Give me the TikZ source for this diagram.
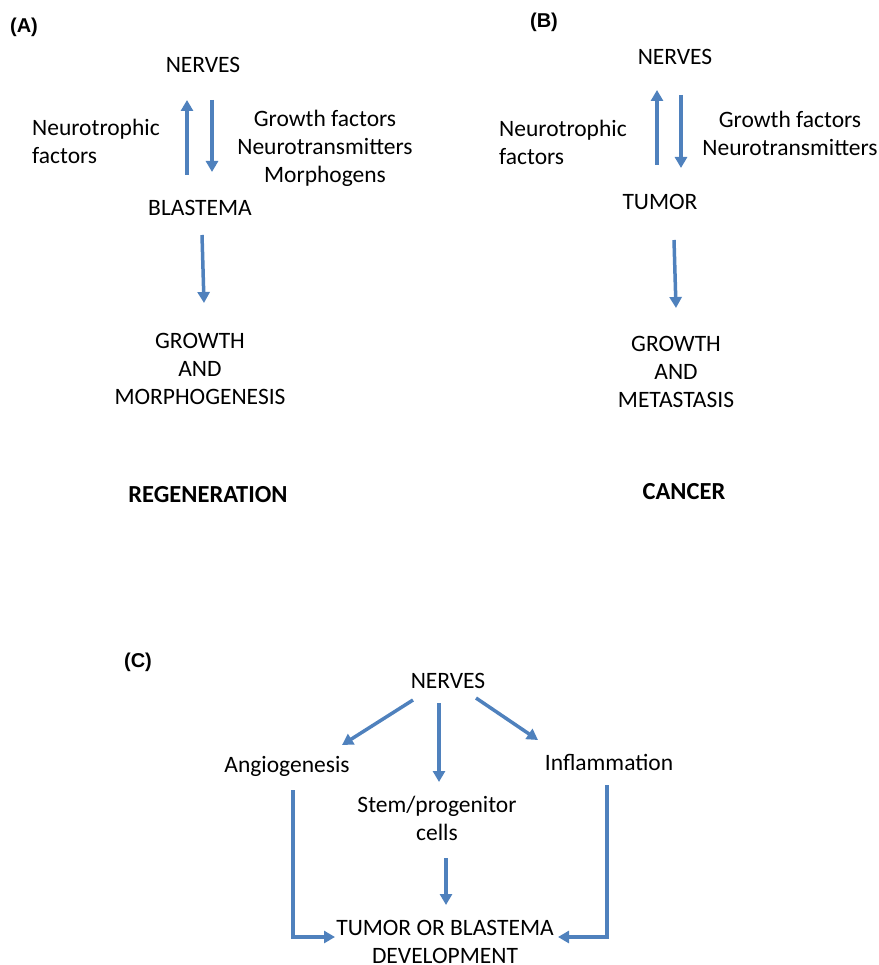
\documentclass[tikz,border=0pt]{standalone}
\usepackage{fontspec}
\setmainfont{Carlito}
\newfontfamily\panelfont{Liberation Sans}
\usetikzlibrary{arrows.meta,calc}
\definecolor{flowblue}{HTML}{4F81BD}
\tikzset{
  txt/.style={font=\fontsize{23.5}{28}\selectfont, inner sep=0pt, text height=15pt, text depth=0pt},
  multi/.style={font=\fontsize{23.5}{28}\selectfont, inner sep=0pt, align=center},
  title/.style={font=\fontsize{24.5}{28}\selectfont\bfseries, inner sep=0pt},
  panel/.style={font=\panelfont\bfseries\fontsize{20}{24}\selectfont, inner sep=0pt},
  flow/.style={draw=flowblue, line width=3.5pt, -{Triangle[length=11pt,width=12pt]}, fill=none}
}
\begin{document}
\begin{tikzpicture}[x=1pt,y=-1pt]
    \useasboundingbox (0,0) rectangle (878,965);
    % (A)
    \node[panel] (labA) at (24,27) {(A)};
    \node[txt] (nervA) at (203,65) {NERVES};
    \node[multi, align=left, anchor=west] (neuroA) at (32,141) {Neurotrophic\\factors};
    \node[multi] (growfA) at (325,148) {Growth factors\\Neurotransmitters\\Morphogens};
    \node[txt] (blastA) at (200,208) {BLASTEMA};
    \node[multi] (growA) at (200,369) {GROWTH\\AND\\MORPHOGENESIS};
    \node[title] (regA) at (208,495) {REGENERATION};
    \draw[flow] ([shift={(-13,-33)}]blastA.center) -- ([shift={(-16,35)}]nervA.center);
    \draw[flow] ([shift={(9,35)}]nervA.center) -- ([shift={(12,-36)}]blastA.center);
    \draw[flow] ([shift={(2,27)}]blastA.center) -- ([shift={(4,-66)}]growA.center);
    % (B)
    \node[panel] (labB) at (544,22) {(B)};
    \node[txt] (nervB) at (675,57) {NERVES};
    \node[multi, align=left, anchor=west] (neuroB) at (499,142) {Neurotrophic\\factors};
    \node[multi] (growfB) at (790,133) {Growth factors\\Neurotransmitters};
    \node[txt] (tumB) at (660,202) {TUMOR};
    \node[multi] (growB) at (676,372) {GROWTH\\AND\\METASTASIS};
    \node[title] (canB) at (684,492) {CANCER};
    \draw[flow] ([shift={(-3,-37)}]tumB.center) -- ([shift={(-18,33)}]nervB.center);
    \draw[flow] ([shift={(6,38)}]nervB.center) -- ([shift={(21,-34)}]tumB.center);
    \draw[flow] ([shift={(14,38)}]tumB.center) -- ([shift={(0,-64)}]growB.center);
    % (C)
    \node[panel] (labC) at (138,662) {(C)};
    \node[txt] (nervC) at (448,681) {NERVES};
    \node[txt] (angC) at (287,765) {Angiogenesis};
    \node[multi] (stemC) at (437,818) {Stem/progenitor\\cells};
    \node[txt] (inflC) at (609,763) {Inflammation};
    \node[multi] (tumC) at (445,942) {TUMOR OR BLASTEMA\\DEVELOPMENT};
    \draw[flow] ([shift={(-35,19)}]nervC.center) -- ([shift={(55,-20)}]angC.center);
    \draw[flow] ([shift={(-9,22)}]nervC.center) -- ([shift={(2,-36)}]stemC.center);
    \draw[flow] ([shift={(28,17)}]nervC.center) -- ([shift={(-71,-23)}]inflC.center);
    \draw[flow] ([shift={(9,40)}]stemC.center) -- ([shift={(1,-37)}]tumC.center);
    \draw[flow] ([shift={(6,25)}]angC.center) |- ([shift={(-110,-5)}]tumC.center);
    \draw[flow] ([shift={(-2,22)}]inflC.center) |- ([shift={(113,-5)}]tumC.center);
\end{tikzpicture}
\end{document}
